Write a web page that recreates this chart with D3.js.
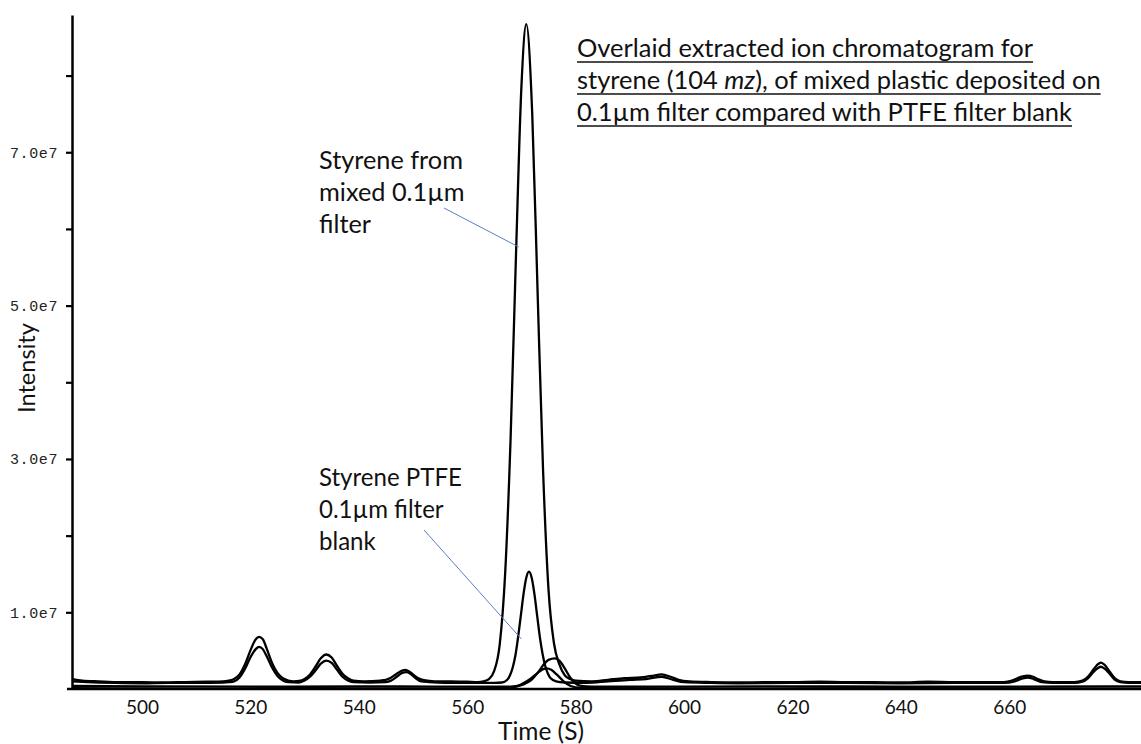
<!DOCTYPE html>
<html lang="en">
<head>
<meta charset="UTF-8">
<title>Styrene extracted ion chromatogram</title>
<script src="https://cdn.jsdelivr.net/npm/d3@7"></script>
<style>
  body { margin: 0; background: #fff; }
  svg { display: block; }
</style>
</head>
<body>
<svg width="1141" height="744"></svg>
<script>
// intensity values are in units of 1e7, time in seconds
const mixedFilter = [
  [487.1,0.13],[489,0.11],[492,0.10],[496,0.09],[500,0.09],[504,0.085],[508,0.09],[512,0.095],
  [515,0.10],[516,0.11],[517,0.13],[518,0.19],[519,0.32],[520,0.50],[521,0.65],[521.6,0.68],
  [522.3,0.65],[523,0.53],[524,0.34],[525,0.21],[526,0.14],[527,0.11],[528,0.10],[529,0.105],
  [530,0.13],[531,0.19],[532,0.29],[533,0.40],[534,0.45],[535,0.41],[536,0.30],[537,0.20],
  [538,0.14],[539,0.11],[541,0.10],[544,0.11],[545,0.12],[546,0.15],[547,0.20],[548,0.24],
  [548.6,0.25],[549.3,0.23],[550,0.19],[551,0.14],[552,0.115],[554,0.10],[557,0.10],[560,0.095],
  [562,0.09],[563,0.10],[564,0.13],[565,0.24],[566,0.58],[567,1.50],[568,3.25],[569,5.65],
  [570,7.85],[570.9,8.67],[572,7.50],[573,5.15],[574,2.85],[575,1.30],[576,0.60],[577,0.32],
  [578,0.18],[579,0.13],[580,0.11],[583,0.10],[586,0.12],[589,0.14],[592,0.15],[594,0.17],
  [595.9,0.19],[597.5,0.16],[599,0.12],[601,0.10],[605,0.09],[610,0.085],[615,0.09],[620,0.09],
  [625,0.095],[630,0.09],[635,0.09],[640,0.085],[645,0.095],[650,0.09],[655,0.09],[659,0.09],
  [660.5,0.11],[661.5,0.14],[662.5,0.165],[663.4,0.175],[664.4,0.16],[665.4,0.125],[666.5,0.10],
  [668,0.09],[672,0.09],[673.5,0.11],[674.5,0.16],[675.5,0.25],[676.3,0.32],[676.9,0.345],
  [677.5,0.32],[678.5,0.23],[679.5,0.14],[680.5,0.10],[682,0.09],[684.3,0.09]
];

const ptfeBlank = [
  [487.1,0.10],[490,0.09],[495,0.08],[500,0.075],[505,0.08],[510,0.08],[515,0.085],[516,0.09],
  [517,0.10],[518,0.15],[519,0.26],[520,0.41],[521,0.52],[521.6,0.55],[522.3,0.52],[523,0.43],
  [524,0.28],[525,0.17],[526,0.11],[527,0.09],[529,0.085],[530,0.11],[531,0.16],[532,0.24],
  [533,0.33],[534,0.37],[535,0.34],[536,0.25],[537,0.16],[538,0.11],[539,0.09],[542,0.085],
  [545,0.09],[546,0.11],[547,0.16],[548,0.21],[548.8,0.22],[549.5,0.20],[550.5,0.14],[551.5,0.10],
  [553,0.09],[556,0.08],[560,0.08],[565,0.08],[566.4,0.085],[567.4,0.12],[567.9,0.18],[568.4,0.28],
  [568.9,0.44],[569.4,0.68],[569.9,0.96],[570.4,1.24],[570.9,1.45],[571.4,1.53],[571.9,1.45],
  [572.4,1.24],[572.9,0.96],[573.4,0.68],[573.9,0.46],[574.4,0.30],[574.9,0.20],[575.4,0.14],
  [576.4,0.10],[578,0.085],[582,0.08],[586,0.10],[590,0.12],[593,0.13],[595.9,0.16],[598,0.12],
  [600,0.09],[605,0.08],[610,0.075],[620,0.08],[630,0.08],[640,0.075],[650,0.08],[659,0.08],
  [661,0.10],[662.5,0.14],[663.4,0.15],[664.5,0.13],[666,0.09],[668,0.08],[672,0.08],
  [673.5,0.095],[674.5,0.14],[675.5,0.22],[676.3,0.27],[676.9,0.29],[677.5,0.27],[678.5,0.20],
  [679.5,0.12],[680.5,0.09],[682,0.08],[684.3,0.08]
];

const lowRunC = [
  [487.1,0.04],[500,0.035],[520,0.03],[540,0.035],[555,0.03],[565,0.03],[568,0.03],[570,0.05],
  [571,0.08],[572,0.13],[573,0.21],[574,0.31],[575,0.38],[576.2,0.40],[577,0.37],[578,0.27],
  [579,0.15],[580,0.07],[581,0.04],[583,0.03],[600,0.03],[620,0.035],[640,0.03],[660,0.03],
  [684.3,0.035]
];

const lowRunD = [
  [487.1,0.01],[510,0.005],[530,0.01],[550,0.005],[566,0.01],[568,0.02],[569,0.03],[570,0.06],
  [571,0.10],[572,0.15],[573,0.21],[574,0.26],[574.7,0.27],[575.5,0.25],[576.5,0.19],[577.5,0.12],
  [578.5,0.06],[580,0.02],[582,0.01],[610,0.005],[640,0.01],[684.3,0.005]
];

const xTicks = [500, 520, 540, 560, 580, 600, 620, 640, 660];
const yTicks = [1, 2, 3, 4, 5, 6, 7, 8];
const yTickLabels = {1: "1.0e7", 3: "3.0e7", 5: "5.0e7", 7: "7.0e7"};

const titleLines = [
  ["Overlaid extracted ion chromatogram for"],
  ["styrene (104 ", "mz", "), of mixed plastic deposited on"],
  ["0.1\u00b5m filter compared with PTFE filter blank"]
];
const noteMixed = ["Styrene from", "mixed 0.1\u00b5m", "filter"];
const noteBlank = ["Styrene PTFE", "0.1\u00b5m filter", "blank"];

const width = 1141, height = 744;
const svg = d3.select("svg");
const font = "Lato, 'Open Sans', sans-serif";

const x = d3.scaleLinear().domain([487.1, 684.3]).range([72, 1141]);
const y = d3.scaleLinear().domain([0, 8.79]).range([689, 15]);

// helper: scale font so that a text element has the wanted width
function fitWidth(sel, target) {
  const w = sel.node().getComputedTextLength();
  const fs = parseFloat(sel.attr("font-size"));
  return fs * target / w;
}

// traces
const line = d3.line()
  .x(d => x(d[0]))
  .y(d => y(d[1]))
  .curve(d3.curveMonotoneX);

[lowRunD, lowRunC, ptfeBlank, mixedFilter].forEach(s => {
  svg.append("path")
    .datum(s)
    .attr("fill", "none")
    .attr("stroke", "#000")
    .attr("stroke-width", 2.3)
    .attr("stroke-linejoin", "round")
    .attr("d", line);
});

// x axis (baseline, no tick marks)
const xAxis = svg.append("g")
  .attr("transform", `translate(0,${y(0)})`)
  .call(d3.axisBottom(x).tickValues(xTicks).tickSize(0).tickSizeOuter(0).tickPadding(12));
xAxis.select(".domain").attr("stroke-width", 2.5).attr("d", `M67,0H${width}`);
xAxis.selectAll("text")
  .attr("font-family", font)
  .attr("font-size", 19)
  .attr("fill", "#111");

// y axis
const yAxis = svg.append("g")
  .attr("transform", `translate(${x.range()[0]},0)`)
  .call(d3.axisLeft(y).tickValues(yTicks).tickSize(6).tickSizeOuter(0)
    .tickPadding(8).tickFormat(d => yTickLabels[d] || ""));
yAxis.select(".domain").attr("stroke-width", 2.5);
yAxis.selectAll(".tick line").attr("stroke-width", 2.2);
yAxis.selectAll("text")
  .attr("font-family", "'Liberation Mono', 'DejaVu Sans Mono', monospace")
  .attr("font-size", 15)
  .attr("letter-spacing", 0.6)
  .attr("fill", "#222");

// axis titles
const xt = svg.append("text")
  .attr("x", 541).attr("y", 740)
  .attr("text-anchor", "middle")
  .attr("font-family", font).attr("font-size", 22)
  .attr("fill", "#111")
  .text("Time (S)");
xt.attr("font-size", fitWidth(xt, 86));

const yt = svg.append("text")
  .attr("transform", "translate(35,368) rotate(-90)")
  .attr("text-anchor", "middle")
  .attr("font-family", font).attr("font-size", 22)
  .attr("fill", "#111")
  .text("Intensity");
yt.attr("font-size", fitWidth(yt, 90));

// title block, underlined
const titleX = 577, titleY = 57, titleStep = 32;
const titleG = svg.append("g");
const tLines = titleLines.map((parts, i) => {
  const t = titleG.append("text")
    .attr("x", titleX).attr("y", titleY + i * titleStep)
    .attr("font-family", font).attr("font-size", 24)
    .attr("fill", "#111");
  parts.forEach((p, j) => {
    t.append("tspan").attr("font-style", j === 1 ? "italic" : null).text(p);
  });
  return t;
});
const titleSize = fitWidth(tLines[1], 524);
tLines.forEach((t, i) => {
  t.attr("font-size", titleSize);
  const w = t.node().getComputedTextLength();
  titleG.append("line")
    .attr("x1", titleX).attr("x2", titleX + w)
    .attr("y1", titleY + i * titleStep + 5).attr("y2", titleY + i * titleStep + 5)
    .attr("stroke", "#111").attr("stroke-width", 1.4);
});

// annotations
function note(lines, left, baseline, target) {
  const ts = lines.map((s, i) => svg.append("text")
    .attr("x", left).attr("y", baseline + i * 32)
    .attr("font-family", font).attr("font-size", 24)
    .attr("fill", "#111")
    .text(s));
  const fs = fitWidth(ts[0], target);
  ts.forEach(t => t.attr("font-size", fs));
}
note(noteMixed, 319, 169, 144);
note(noteBlank, 319, 486, 143);

// leader lines
svg.append("line")
  .attr("x1", 444).attr("y1", 208).attr("x2", x(569.5)).attr("y2", 247)
  .attr("stroke", "#5b7fc4").attr("stroke-width", 1);
svg.append("line")
  .attr("x1", 424).attr("y1", 530).attr("x2", x(570.0)).attr("y2", 639)
  .attr("stroke", "#5b7fc4").attr("stroke-width", 1);
</script>
</body>
</html>
